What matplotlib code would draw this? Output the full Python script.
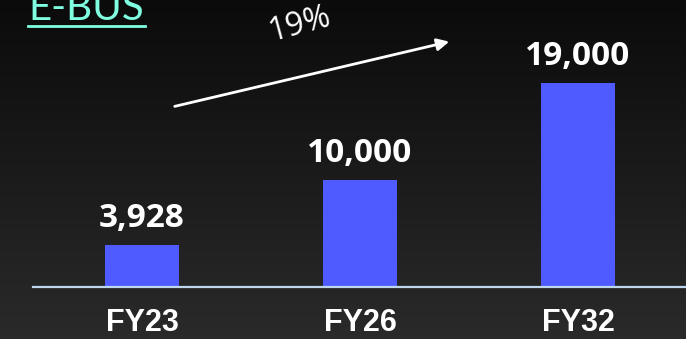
import numpy as np
import matplotlib.pyplot as plt

categories = ['FY23', 'FY26', 'FY32']
values = [3928, 10000, 19000]
value_labels = ['3,928', '10,000', '19,000']
title = 'E-BUS'
cagr_label = '19%'

fig = plt.figure(figsize=(6.86, 3.39), dpi=100)

# dark vertical gradient background
bg = fig.add_axes([0, 0, 1, 1], zorder=-10)
grad = np.linspace(0, 1, 256).reshape(-1, 1)
bg.imshow(grad, aspect='auto', cmap=plt.matplotlib.colors.LinearSegmentedColormap.from_list(
    'bg', ['#0b0b0b', '#2a2a2a']), extent=[0, 1, 1, 0])
bg.axis('off')

ax = fig.add_axes([33 / 686, 52 / 339, 653 / 686, 287 / 339])
ax.patch.set_alpha(0)
x = np.arange(len(categories))
ax.bar(x, values, width=0.34, color='#4F5BFF')
ax.set_xlim(-0.5, 2.495)
ax.set_ylim(0, 26780)

for s in ['top', 'right', 'left']:
    ax.spines[s].set_visible(False)
ax.spines['bottom'].set_color('#BDD7EE')
ax.spines['bottom'].set_linewidth(1.6)
ax.set_yticks([])
ax.set_xticks(x)
ax.set_xticklabels(categories, fontfamily='Liberation Sans', fontweight='bold',
                   fontsize=22, color='white')
ax.tick_params(axis='x', length=0, pad=15)

for xi, v, lab in zip(x, values, value_labels):
    ax.annotate(lab, (xi, v), xytext=(0, 13), textcoords='offset points',
                ha='center', va='baseline', fontsize=24, fontweight='bold',
                fontfamily='Open Sans', color='white')

# growth arrow
fig.patches.append(plt.matplotlib.patches.FancyArrowPatch(
    (172 / 686, 1 - 107 / 339), (452 / 686, 1 - 41 / 339),
    transform=fig.transFigure, arrowstyle='-|>', mutation_scale=18,
    color='white', lw=2))
fig.text(299 / 686, 1 - 25 / 339, cagr_label, rotation=15, ha='center', va='center',
         fontsize=23, fontfamily='Open Sans', color='white')

t = fig.text(28 / 686, 1 - 20 / 339, title, ha='left', va='baseline', fontsize=29,
             fontfamily='Lato', color='#7FFFE0')
fig.add_artist(plt.Line2D([28 / 686, 145 / 686], [1 - 26 / 339, 1 - 26 / 339],
                          color='#7FFFE0', lw=2))

fig.savefig('out.png', dpi=100, facecolor='black')
